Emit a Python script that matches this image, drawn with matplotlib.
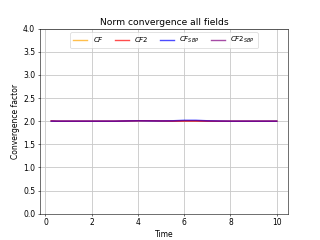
import numpy as np
import matplotlib
matplotlib.use("Agg")
import matplotlib.pyplot as plt

time = [0.25, 0.5, 1.0, 1.5, 2.0, 2.5, 3.0, 3.5, 4.0, 4.5, 5.0, 5.5, 6.0, 6.5, 7.0, 7.5, 8.0, 8.5, 9.0, 9.5, 10.0]
cf = [2.005, 2.0, 2.0, 2.0, 2.0, 2.0, 2.0, 2.005, 2.01, 2.01, 2.005, 2.0, 2.005, 2.005, 2.0, 2.0, 2.0, 2.0, 2.0, 2.0, 2.0]
cf2 = [2.005, 2.0, 2.0, 2.0, 2.0, 2.0, 2.0, 2.005, 2.01, 2.01, 2.005, 2.0, 2.005, 2.005, 2.0, 2.0, 2.0, 2.0, 2.0, 2.0, 2.0]
cf_sbp = [2.0, 2.0, 2.0, 2.0, 2.0, 2.0, 2.0, 2.005, 2.01, 2.005, 2.005, 2.01, 2.02, 2.02, 2.01, 2.005, 2.0, 2.0, 2.0, 2.0, 2.0]
cf2_sbp = [2.005, 2.0, 2.0, 2.0, 2.0, 2.0, 2.0, 2.005, 2.01, 2.01, 2.005, 2.005, 2.01, 2.01, 2.005, 2.0, 2.0, 2.0, 2.0, 2.0, 2.0]

plt.rcParams["font.size"] = 11

fig, ax = plt.subplots(figsize=(6.4, 4.8), dpi=50)
ax.plot(time, cf, color="orange", alpha=0.7, lw=2, label="$CF$")
ax.plot(time, cf2, color="red", alpha=0.7, lw=2, label="$CF2$")
ax.plot(time, cf_sbp, color="blue", alpha=0.7, lw=2, label="$CF_{SBP}$")
ax.plot(time, cf2_sbp, color="purple", alpha=0.7, lw=2, label="$CF2_{SBP}$")
ax.set_ylim(0, 4)
ax.grid(True, color="#c8c8c8", lw=1.2)
ax.legend(loc="upper center", ncol=4, fontsize=10, columnspacing=1.6)
ax.set_xlabel("Time")
ax.set_ylabel("Convergence factor")
ax.set_title("Norm convergence all fields")
fig.savefig("out.png", dpi=50)
